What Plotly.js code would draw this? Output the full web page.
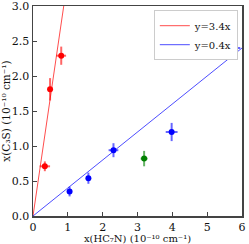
<!DOCTYPE html>
<html><head><meta charset="utf-8">
<script src="https://cdn.plot.ly/plotly-3.0.1.min.js"></script>
<style>body{margin:0;padding:0;}#c{width:249px;height:244px;}</style>
</head><body><div id="c"></div>
<script>
var redX = [0.34, 0.49, 0.81];
var redY = [0.71, 1.81, 2.29];
var redXErr = [0.15, 0.05, 0.14];
var redYErr = [0.07, 0.16, 0.13];
var blueX = [1.05, 1.59, 2.31, 3.98, 5.74];
var blueY = [0.35, 0.54, 0.94, 1.20, 2.40];
var blueXErr = [0.03, 0.03, 0.14, 0.17, 0.21];
var blueYErr = [0.07, 0.08, 0.10, 0.13, 0.07];
var greenX = [3.19];
var greenY = [0.82];
var greenXErr = [0.10];
var greenYErr = [0.11];
var redLineX = [0, 3/3.4];
var redSlope = 3.4;
var blueLineX = [0, 6];
var blueSlope = 0.4;

function pts(x, y, ex, ey, col, ecol) {
  return {x: x, y: y, mode: 'markers', type: 'scatter', showlegend: false,
    marker: {color: col, size: 6},
    error_x: {type: 'data', array: ex, color: ecol, thickness: 2, width: 0},
    error_y: {type: 'data', array: ey, color: ecol, thickness: 2, width: 0}};
}
var data = [
  {x: redLineX, y: redLineX.map(function(v){return v*redSlope;}), mode: 'lines', name: 'y=3.4x',
   line: {color: 'rgba(255,0,0,0.7)', width: 1}},
  {x: blueLineX, y: blueLineX.map(function(v){return v*blueSlope;}), mode: 'lines', name: 'y=0.4x',
   line: {color: 'rgba(0,0,255,0.7)', width: 1}},
  pts(redX, redY, redXErr, redYErr, 'red', 'rgba(255,0,0,0.6)'),
  pts(blueX, blueY, blueXErr, blueYErr, 'blue', 'rgba(0,0,255,0.6)'),
  pts(greenX, greenY, greenXErr, greenYErr, 'green', 'rgba(0,128,0,0.6)')
];
var axfont = {family: 'DejaVu Serif', size: 11, color: '#111'};
var layout = {
  width: 249, height: 244,
  margin: {l: 33, r: 7, t: 6, b: 28},
  paper_bgcolor: 'white', plot_bgcolor: 'white',
  font: {family: 'DejaVu Serif', size: 11, color: '#111'},
  xaxis: {range: [0, 6], dtick: 1, tick0: 0, ticks: 'inside', ticklen: 4, tickcolor: '#444',
    showgrid: false, zeroline: false, showline: true, mirror: true, linecolor: '#444', linewidth: 1.5,
    tickfont: axfont, ticklabeloverflow: 'allow',
    title: {text: 'x(HC₇N) (10⁻¹⁰ cm⁻¹)', font: {family: 'DejaVu Serif', size: 10}, standoff: 2}},
  yaxis: {range: [0, 3], dtick: 0.5, tick0: 0, tickformat: '.1f', ticks: 'inside', ticklen: 4, tickcolor: '#444',
    showgrid: false, zeroline: false, showline: true, mirror: true, linecolor: '#444', linewidth: 1.5,
    tickfont: axfont, ticklabeloverflow: 'allow',
    title: {text: 'x(C₃S) (10⁻¹⁰ cm⁻¹)', font: {family: 'DejaVu Serif', size: 10.5}, standoff: 2}},
  legend: {x: 0.98, y: 0.98, xanchor: 'right', yanchor: 'top', bgcolor: 'white',
    bordercolor: '#ccc', borderwidth: 1, font: {family: 'DejaVu Serif', size: 10}, tracegroupgap: 0},
  showlegend: true
};
Plotly.newPlot('c', data, layout, {displayModeBar: false, staticPlot: true});
</script></body></html>
